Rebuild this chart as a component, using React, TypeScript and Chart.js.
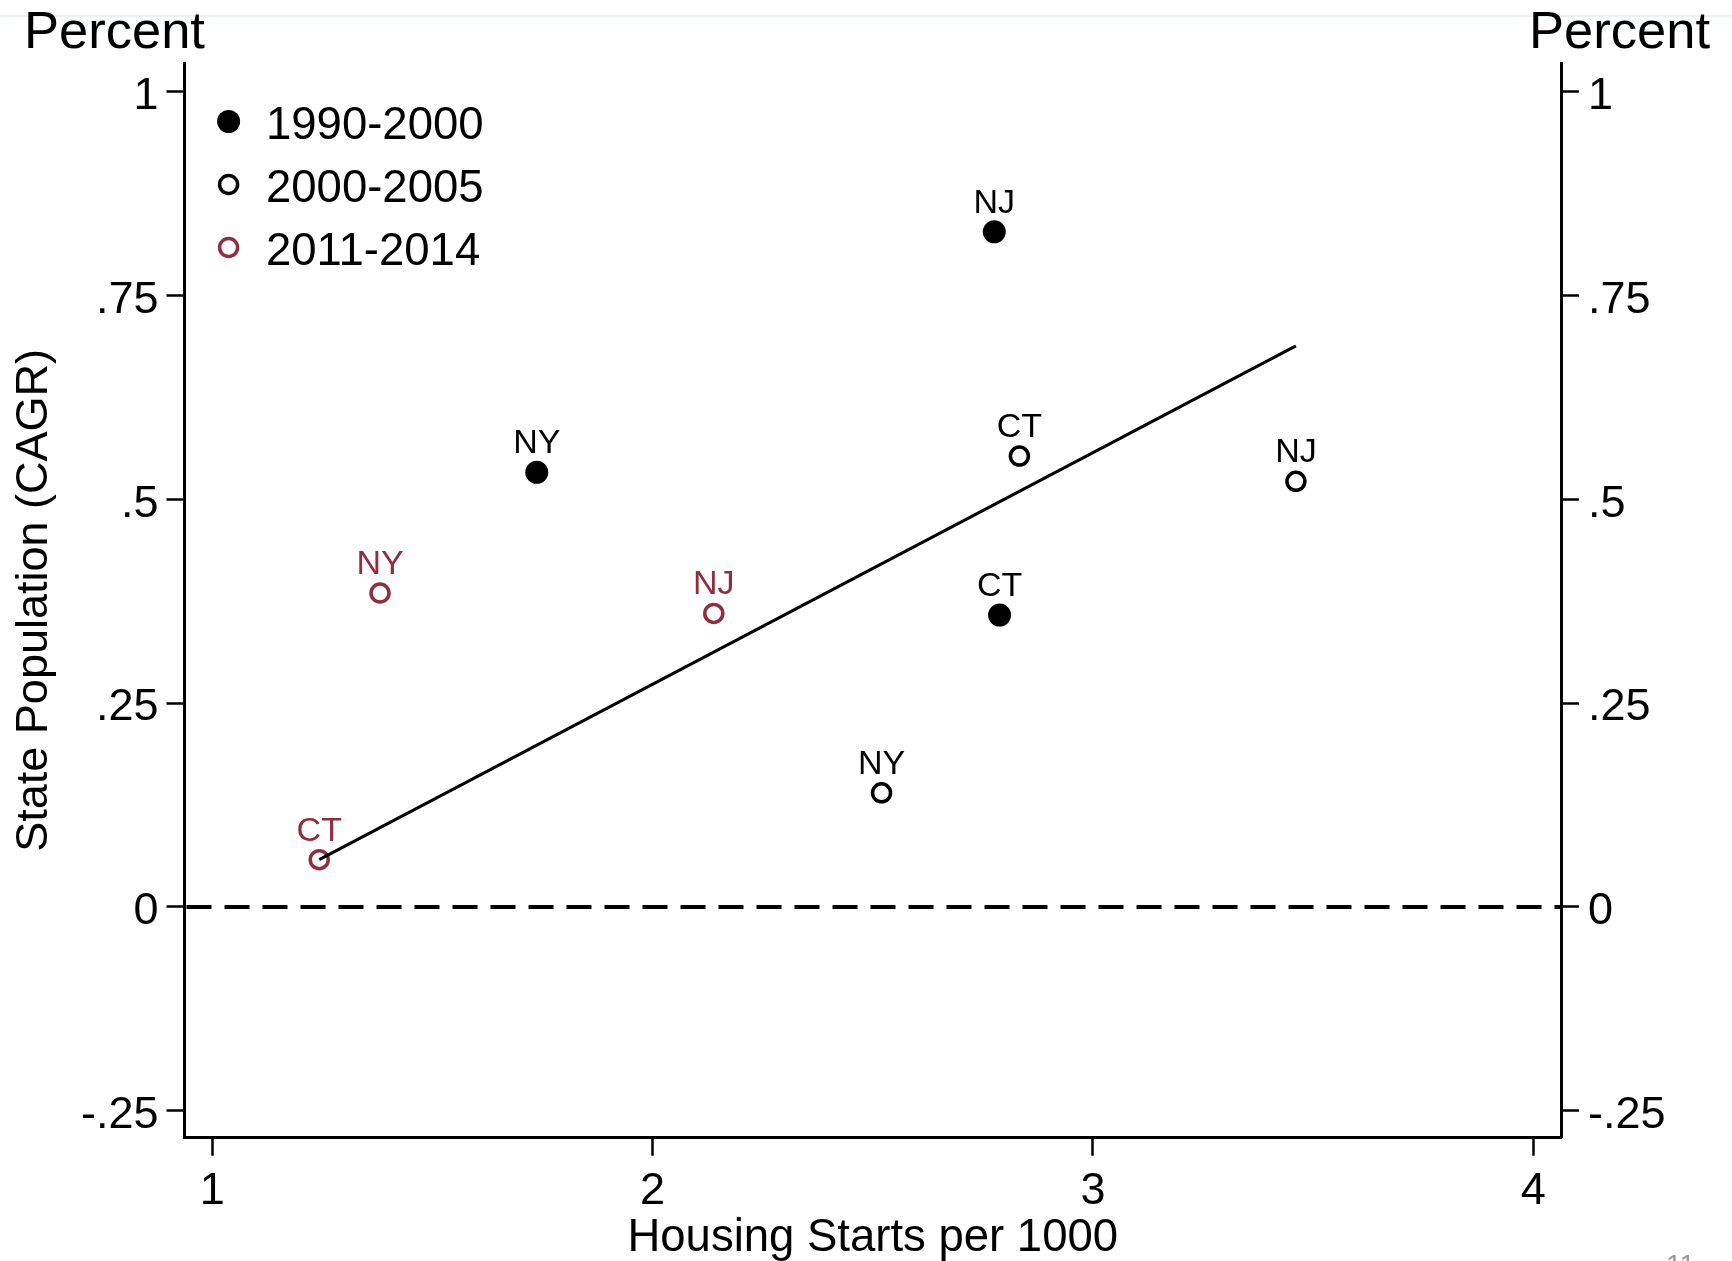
import React, { useEffect, useRef } from 'react';
import { Chart, registerables } from 'chart.js';

Chart.register(...registerables);

const FONT = '"Liberation Sans", Arial, Helvetica, sans-serif';
const RED = 'rgb(144,45,62)';
const BLACK = '#000000';

// Series names (legend)
const seriesNames = ['1990-2000', '2000-2005', '2011-2014'];

// 1990-2000 (filled black)
const labels1990 = ['NJ', 'NY', 'CT'];
const x1990 = [2.776, 1.737, 2.788];
const y1990 = [0.828, 0.533, 0.358];

// 2000-2005 (hollow black)
const labels2000 = ['NJ', 'NY', 'CT'];
const x2000 = [3.461, 2.520, 2.833];
const y2000 = [0.522, 0.140, 0.553];

// 2011-2014 (hollow red)
const labels2011 = ['NJ', 'NY', 'CT'];
const x2011 = [2.139, 1.381, 1.243];
const y2011 = [0.360, 0.385, 0.058];

// Fitted line endpoints
const fitX = [1.243, 3.461];
const fitY = [0.058, 0.688];

// Axes
const xTicks = [1, 2, 3, 4];
const yTicks = [-0.25, 0, 0.25, 0.5, 0.75, 1];
const xRange = [0.937, 4.063];
const yRange = [-0.283, 1.035];

const xTitle = 'Housing Starts per 1000';
const yTitle = 'State Population (CAGR)';
const unitLabel = 'Percent';
const pageNumber = '11';

const fmtY = (v: number) => {
  if (v === 0) return '0';
  return String(v).replace('0.', '.');
};

const toPts = (xs: number[], ys: number[]) => xs.map((x, i) => ({ x, y: ys[i] }));

const decorPlugin = {
  id: 'decor',
  beforeDraw(chart: any) {
    const ctx = chart.ctx;
    ctx.save();
    ctx.strokeStyle = '#e4edf2';
    ctx.lineWidth = 1.5;
    ctx.beginPath();
    ctx.moveTo(0, 16);
    ctx.lineTo(chart.width, 16);
    ctx.stroke();
    ctx.restore();
  },
  beforeDatasetsDraw(chart: any) {
    const ctx = chart.ctx;
    const ys = chart.scales.y;
    const area = chart.chartArea;
    const y0 = ys.getPixelForValue(0);
    ctx.save();
    ctx.strokeStyle = BLACK;
    ctx.lineWidth = 4;
    ctx.setLineDash([25, 13]);
    ctx.beginPath();
    ctx.moveTo(area.left + 2, y0);
    ctx.lineTo(area.right, y0);
    ctx.stroke();
    ctx.restore();
  },
  afterDatasetsDraw(chart: any) {
    const ctx = chart.ctx;
    ctx.save();
    ctx.font = `34px ${FONT}`;
    ctx.textAlign = 'center';
    ctx.textBaseline = 'alphabetic';
    chart.data.datasets.forEach((ds: any, di: number) => {
      if (!ds.pointLabels) return;
      const meta = chart.getDatasetMeta(di);
      meta.data.forEach((pt: any, i: number) => {
        ctx.fillStyle = ds.labelColor;
        ctx.fillText(ds.pointLabels[i], pt.x, pt.y - 19);
      });
    });
    ctx.restore();
  },
  afterDraw(chart: any) {
    const ctx = chart.ctx;
    ctx.save();
    // Percent labels
    ctx.fillStyle = BLACK;
    ctx.font = `52.5px ${FONT}`;
    ctx.textBaseline = 'alphabetic';
    ctx.textAlign = 'left';
    ctx.fillText(unitLabel, 24, 48);
    ctx.textAlign = 'right';
    ctx.fillText(unitLabel, 1710, 48);

    // Legend
    const lx = 228.6;
    const rows = [121.5, 184.5, 247.5];
    const styles = [
      { fill: BLACK, stroke: BLACK, r: 11.5, w: 0 },
      { fill: null, stroke: BLACK, r: 9, w: 3.5 },
      { fill: null, stroke: RED, r: 9, w: 3.5 },
    ];
    rows.forEach((ry, i) => {
      const s = styles[i];
      ctx.beginPath();
      ctx.arc(lx, ry, s.r, 0, Math.PI * 2);
      if (s.fill) {
        ctx.fillStyle = s.fill;
        ctx.fill();
      } else {
        ctx.lineWidth = s.w;
        ctx.strokeStyle = s.stroke;
        ctx.stroke();
      }
      ctx.fillStyle = BLACK;
      ctx.font = `45.5px ${FONT}`;
      ctx.textAlign = 'left';
      ctx.textBaseline = 'middle';
      ctx.fillText(seriesNames[i], 266, ry + 5);
    });

    // page number
    ctx.fillStyle = '#9a9a9a';
    ctx.font = `28px ${FONT}`;
    ctx.textAlign = 'left';
    ctx.textBaseline = 'alphabetic';
    ctx.fillText(pageNumber, 1666, 1274);
    ctx.restore();
  },
};

export default function App() {
  const canvasRef = useRef<HTMLCanvasElement | null>(null);

  useEffect(() => {
    document.body.style.margin = '0';
    const canvas = canvasRef.current;
    if (!canvas) return;

    const tickFont = { family: FONT, size: 45, lineHeight: 1.1 };
    const gridCfg = {
      display: true,
      drawOnChartArea: false,
      drawTicks: true,
      tickLength: 18,
      tickWidth: 2.5,
      tickColor: BLACK,
    };
    const borderCfg = { display: true, color: BLACK, width: 3 };

    const chart = new Chart(canvas, {
      type: 'scatter',
      data: {
        datasets: [
          {
            label: 'fit',
            data: toPts(fitX, fitY),
            showLine: true,
            borderColor: BLACK,
            borderWidth: 3,
            pointRadius: 0,
            fill: false,
            xAxisID: 'x',
            yAxisID: 'y',
          } as any,
          {
            label: seriesNames[0],
            data: toPts(x1990, y1990),
            pointRadius: 11.5,
            pointBackgroundColor: BLACK,
            pointBorderColor: BLACK,
            pointBorderWidth: 0,
            pointLabels: labels1990,
            labelColor: BLACK,
            xAxisID: 'x',
            yAxisID: 'y',
          } as any,
          {
            label: seriesNames[1],
            data: toPts(x2000, y2000),
            pointRadius: 9,
            pointBackgroundColor: 'rgba(0,0,0,0)',
            pointBorderColor: BLACK,
            pointBorderWidth: 3.5,
            pointLabels: labels2000,
            labelColor: BLACK,
            xAxisID: 'x',
            yAxisID: 'y',
          } as any,
          {
            label: seriesNames[2],
            data: toPts(x2011, y2011),
            pointRadius: 9,
            pointBackgroundColor: 'rgba(0,0,0,0)',
            pointBorderColor: RED,
            pointBorderWidth: 3.5,
            pointLabels: labels2011,
            labelColor: RED,
            xAxisID: 'x',
            yAxisID: 'y',
          } as any,
        ],
      },
      options: {
        responsive: false,
        maintainAspectRatio: false,
        animation: false,
        layout: { padding: { top: 63, left: 0, right: 0, bottom: 0 } },
        plugins: {
          legend: { display: false },
          tooltip: { enabled: false },
        },
        scales: {
          x: {
            type: 'linear',
            position: 'bottom',
            min: xRange[0],
            max: xRange[1],
            afterBuildTicks: (s: any) => {
              s.ticks = xTicks.map((v) => ({ value: v }));
            },
            afterFit: (s: any) => {
              s.height = 123.3;
            },
            ticks: {
              font: { family: FONT, size: 45, lineHeight: 1.2 },
              color: BLACK,
              padding: 9,
              autoSkip: false,
              maxRotation: 0,
              callback: (v: any) => String(v),
            },
            grid: gridCfg,
            border: borderCfg,
            title: {
              display: true,
              text: xTitle,
              color: BLACK,
              font: { family: FONT, size: 45.5, lineHeight: 1.0 },
              padding: { top: 0, bottom: 0 },
            },
          },
          y: {
            type: 'linear',
            position: 'left',
            min: yRange[0],
            max: yRange[1],
            afterBuildTicks: (s: any) => {
              s.ticks = yTicks.map((v) => ({ value: v }));
            },
            afterFit: (s: any) => {
              s.width = 184.5;
            },
            ticks: {
              font: tickFont,
              color: BLACK,
              padding: 8,
              labelOffset: 5,
              autoSkip: false,
              callback: (v: any) => fmtY(Number(v)),
            },
            grid: gridCfg,
            border: borderCfg,
            title: {
              display: true,
              text: yTitle,
              color: BLACK,
              font: { family: FONT, size: 45, lineHeight: 1.2 },
              padding: { top: 8, bottom: 0 },
            },
          },
          y2: {
            type: 'linear',
            position: 'right',
            min: yRange[0],
            max: yRange[1],
            afterBuildTicks: (s: any) => {
              s.ticks = yTicks.map((v) => ({ value: v }));
            },
            afterFit: (s: any) => {
              s.width = 171;
            },
            ticks: {
              font: tickFont,
              color: BLACK,
              padding: 9,
              labelOffset: 5,
              autoSkip: false,
              callback: (v: any) => fmtY(Number(v)),
            },
            grid: gridCfg,
            border: borderCfg,
          },
        },
      } as any,
      plugins: [decorPlugin],
    });

    return () => {
      chart.destroy();
    };
  }, []);

  return (
    <div style={{ width: 1732, height: 1261, background: '#ffffff', overflow: 'hidden' }}>
      <canvas ref={canvasRef} width={1732} height={1261} style={{ display: 'block' }} />
    </div>
  );
}
